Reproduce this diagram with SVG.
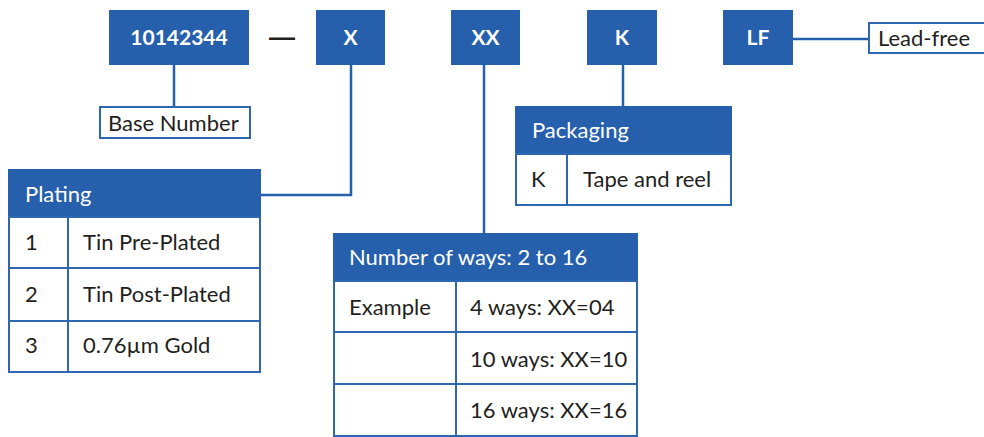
<svg xmlns="http://www.w3.org/2000/svg" width="984" height="437" viewBox="0 0 984 437">
<style>
.blk{fill:#2660ad}
.cell{fill:#fff;stroke:#2f66b0;stroke-width:2}
.ln{fill:none;stroke:#2660ad;stroke-width:2.5}
.code{font-family:Lato,"Liberation Sans",sans-serif;font-weight:bold;font-size:21px;fill:#fff;text-anchor:middle}
.hd{font-family:Lato,"Liberation Sans",sans-serif;font-size:22px;fill:#fff}
.tx{font-family:Lato,"Liberation Sans",sans-serif;font-size:22px;fill:#231f20}
</style>
<rect width="984" height="437" fill="#fff"/>
<g id="connectors">
<line class="ln" x1="174" y1="65" x2="174" y2="107"/>
<polyline class="ln" points="351,65 351,195 261,195"/>
<line class="ln" x1="484" y1="65" x2="484" y2="233"/>
<line class="ln" x1="623" y1="65" x2="623" y2="106"/>
<line class="ln" x1="793" y1="39" x2="869" y2="39"/>
</g>
<g id="code-base"><rect class="blk" x="109" y="10" width="140" height="55"/><text class="code" x="179" y="45">10142344</text></g>
<g id="dash"><text x="282" y="46" text-anchor="middle" font-family="'Liberation Sans',sans-serif" font-weight="bold" font-size="26" fill="#231f20">—</text></g>
<g id="code-x"><rect class="blk" x="316" y="10" width="69" height="55"/><text class="code" x="350.5" y="45">X</text></g>
<g id="code-xx"><rect class="blk" x="451" y="10" width="69" height="55"/><text class="code" x="485.5" y="45">XX</text></g>
<g id="code-k"><rect class="blk" x="587" y="10" width="70" height="55"/><text class="code" x="622" y="45">K</text></g>
<g id="code-lf"><rect class="blk" x="723" y="10" width="70" height="55"/><text class="code" x="758" y="45">LF</text></g>
<g id="lead-free"><rect class="cell" x="869" y="23" width="120" height="30"/><text class="tx" x="878" y="46">Lead-free</text></g>
<g id="base-number"><rect class="cell" x="100" y="107" width="150" height="31"/><text class="tx" x="108" y="131">Base Number</text></g>
<g id="plating">
<rect class="blk" x="8" y="169" width="253" height="48"/>
<text class="hd" x="25" y="202">Plating</text>
<rect class="cell" x="9" y="217" width="59" height="51"/><rect class="cell" x="68" y="217" width="192" height="51"/>
<rect class="cell" x="9" y="268" width="59" height="53"/><rect class="cell" x="68" y="268" width="192" height="53"/>
<rect class="cell" x="9" y="321" width="59" height="51"/><rect class="cell" x="68" y="321" width="192" height="51"/>
<text class="tx" x="25" y="250">1</text><text class="tx" x="83" y="250">Tin Pre-Plated</text>
<text class="tx" x="25" y="302">2</text><text class="tx" x="83" y="302">Tin Post-Plated</text>
<text class="tx" x="25" y="353">3</text><text class="tx" x="83" y="353">0.76µm Gold</text>
</g>
<g id="ways">
<rect class="blk" x="333" y="233" width="305" height="48"/>
<text class="hd" x="349" y="265">Number of ways: 2 to 16</text>
<rect class="cell" x="334" y="281" width="122" height="51"/><rect class="cell" x="456" y="281" width="181" height="51"/>
<rect class="cell" x="334" y="332" width="122" height="52"/><rect class="cell" x="456" y="332" width="181" height="52"/>
<rect class="cell" x="334" y="384" width="122" height="52"/><rect class="cell" x="456" y="384" width="181" height="52"/>
<text class="tx" x="349" y="315">Example</text><text class="tx" x="470" y="315">4 ways: XX=04</text>
<text class="tx" x="470" y="367">10 ways: XX=10</text>
<text class="tx" x="470" y="418">16 ways: XX=16</text>
</g>
<g id="packaging">
<rect class="blk" x="515" y="106" width="217" height="48"/>
<text class="hd" x="532" y="138">Packaging</text>
<rect class="cell" x="516" y="154" width="51" height="51"/><rect class="cell" x="567" y="154" width="164" height="51"/>
<text class="tx" x="531" y="187">K</text><text class="tx" x="583" y="187">Tape and reel</text>
</g>
</svg>
